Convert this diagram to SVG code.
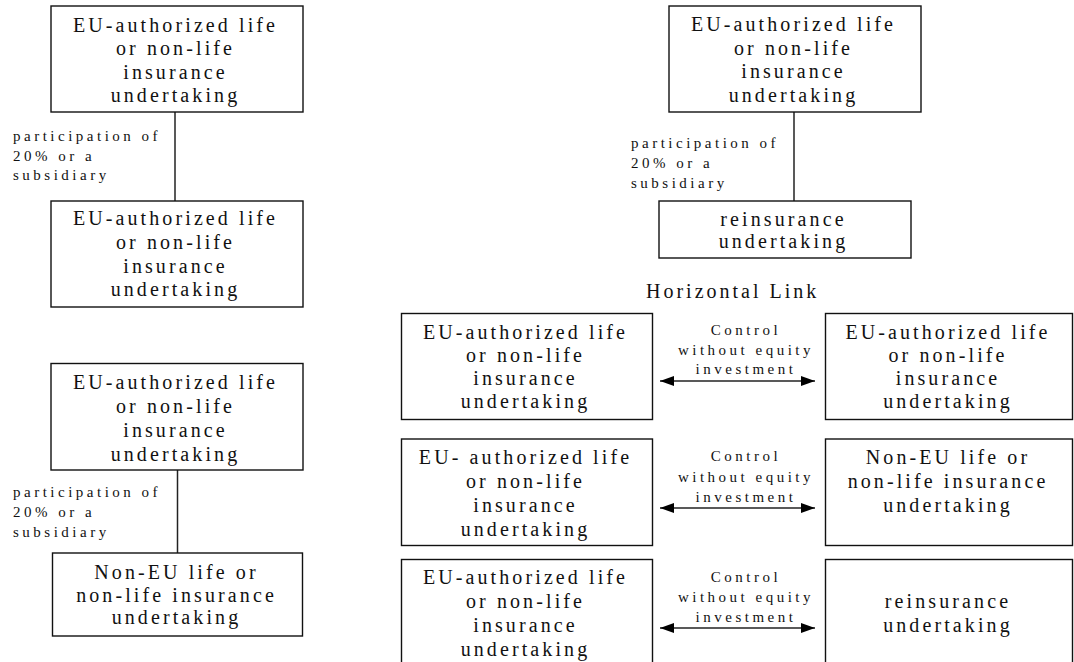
<svg xmlns="http://www.w3.org/2000/svg" width="1074" height="662" viewBox="0 0 1074 662">
<style>
.box{fill:#fff;stroke:#111;stroke-width:1.4}
.t{font-family:"Liberation Serif","Times New Roman",serif;font-size:20px;letter-spacing:3.1px;fill:#111;text-anchor:middle}
.h{font-family:"Liberation Serif","Times New Roman",serif;font-size:20px;letter-spacing:3px;fill:#111}
.l{font-family:"Liberation Serif","Times New Roman",serif;font-size:15px;letter-spacing:3.5px;fill:#111}
.c{font-family:"Liberation Serif","Times New Roman",serif;font-size:15px;letter-spacing:3.5px;fill:#111;text-anchor:middle}
.ln{stroke:#222;stroke-width:1.5;fill:none}
</style>
<defs>
<marker id="ah" markerUnits="userSpaceOnUse" markerWidth="16" markerHeight="12" refX="14" refY="5" orient="auto-start-reverse">
<path d="M0,0 L14,5 L0,10 Z" fill="#000"/>
</marker>
</defs>
<rect x="0" y="0" width="1074" height="662" fill="#fff"/>

<g id="connectors">
<line class="ln" x1="175" y1="112" x2="175" y2="201"/>
<text class="l" x="13" y="141">participation of</text>
<text class="l" x="13" y="160.5">20% or a</text>
<text class="l" x="13" y="180">subsidiary</text>

<line class="ln" x1="177.5" y1="470" x2="177.5" y2="553"/>
<text class="l" x="13" y="497">participation of</text>
<text class="l" x="13" y="517">20% or a</text>
<text class="l" x="13" y="536.5">subsidiary</text>

<line class="ln" x1="794" y1="112" x2="794" y2="201"/>
<text class="l" x="631" y="147.5">participation of</text>
<text class="l" x="631" y="167.5">20% or a</text>
<text class="l" x="631" y="187.5">subsidiary</text>

<line class="ln" x1="660" y1="381" x2="815" y2="381" marker-start="url(#ah)" marker-end="url(#ah)"/>
<text class="c" x="746" y="335">Control</text>
<text class="c" x="746" y="355">without equity</text>
<text class="c" x="746" y="374">investment</text>

<line class="ln" x1="660" y1="508" x2="815" y2="508" marker-start="url(#ah)" marker-end="url(#ah)"/>
<text class="c" x="746" y="461">Control</text>
<text class="c" x="746" y="482">without equity</text>
<text class="c" x="746" y="501.5">investment</text>

<line class="ln" x1="660" y1="628" x2="815" y2="628" marker-start="url(#ah)" marker-end="url(#ah)"/>
<text class="c" x="746" y="581.5">Control</text>
<text class="c" x="746" y="602">without equity</text>
<text class="c" x="746" y="621.5">investment</text>
</g>

<text id="horizontal-link" class="h" x="646" y="298">Horizontal Link</text>

<g id="n1">
<rect class="box" x="51" y="6" width="252" height="106"/>
<text class="t" x="175.5" y="31.5">EU-authorized life</text>
<text class="t" x="175.5" y="55">or non-life</text>
<text class="t" x="175.5" y="79">insurance</text>
<text class="t" x="175.5" y="102">undertaking</text>
</g>
<g id="n2">
<rect class="box" x="51" y="201" width="252" height="106"/>
<text class="t" x="175.5" y="225">EU-authorized life</text>
<text class="t" x="175.5" y="248.5">or non-life</text>
<text class="t" x="175.5" y="272.5">insurance</text>
<text class="t" x="175.5" y="296">undertaking</text>
</g>
<g id="n3">
<rect class="box" x="51" y="363.5" width="252" height="106.5"/>
<text class="t" x="175.5" y="389">EU-authorized life</text>
<text class="t" x="175.5" y="413">or non-life</text>
<text class="t" x="175.5" y="437">insurance</text>
<text class="t" x="175.5" y="461">undertaking</text>
</g>
<g id="n4">
<rect class="box" x="52.5" y="553" width="250" height="83"/>
<text class="t" x="176.5" y="579">Non-EU life or</text>
<text class="t" x="176.5" y="601.5">non-life insurance</text>
<text class="t" x="176.5" y="624">undertaking</text>
</g>
<g id="n5">
<rect class="box" x="669" y="6" width="252" height="106"/>
<text class="t" x="793.5" y="31">EU-authorized life</text>
<text class="t" x="793.5" y="54.5">or non-life</text>
<text class="t" x="793.5" y="78">insurance</text>
<text class="t" x="793.5" y="101.5">undertaking</text>
</g>
<g id="n6">
<rect class="box" x="659" y="201" width="252" height="57"/>
<text class="t" x="783.5" y="225.5">reinsurance</text>
<text class="t" x="783.5" y="248">undertaking</text>
</g>
<g id="n7">
<rect class="box" x="401.5" y="313.5" width="251" height="106"/>
<text class="t" x="525.5" y="338.5">EU-authorized life</text>
<text class="t" x="525.5" y="362">or non-life</text>
<text class="t" x="525.5" y="385">insurance</text>
<text class="t" x="525.5" y="408">undertaking</text>
</g>
<g id="n8">
<rect class="box" x="825.5" y="313.5" width="247" height="106"/>
<text class="t" x="948" y="338.5">EU-authorized life</text>
<text class="t" x="948" y="362">or non-life</text>
<text class="t" x="948" y="385">insurance</text>
<text class="t" x="948" y="408">undertaking</text>
</g>
<g id="n9">
<rect class="box" x="401.5" y="439" width="251" height="106.5"/>
<text class="t" x="525.5" y="464">EU- authorized life</text>
<text class="t" x="525.5" y="488">or non-life</text>
<text class="t" x="525.5" y="512">insurance</text>
<text class="t" x="525.5" y="536">undertaking</text>
</g>
<g id="n10">
<rect class="box" x="825.5" y="439" width="247" height="106.5"/>
<text class="t" x="948" y="464">Non-EU life or</text>
<text class="t" x="948" y="488">non-life insurance</text>
<text class="t" x="948" y="512">undertaking</text>
</g>
<g id="n11">
<rect class="box" x="401.5" y="559.5" width="251" height="110"/>
<text class="t" x="525.5" y="584">EU-authorized life</text>
<text class="t" x="525.5" y="608">or non-life</text>
<text class="t" x="525.5" y="632">insurance</text>
<text class="t" x="525.5" y="656">undertaking</text>
</g>
<g id="n12">
<rect class="box" x="825.5" y="559.5" width="247" height="110"/>
<text class="t" x="948" y="608">reinsurance</text>
<text class="t" x="948" y="632">undertaking</text>
</g>
</svg>
